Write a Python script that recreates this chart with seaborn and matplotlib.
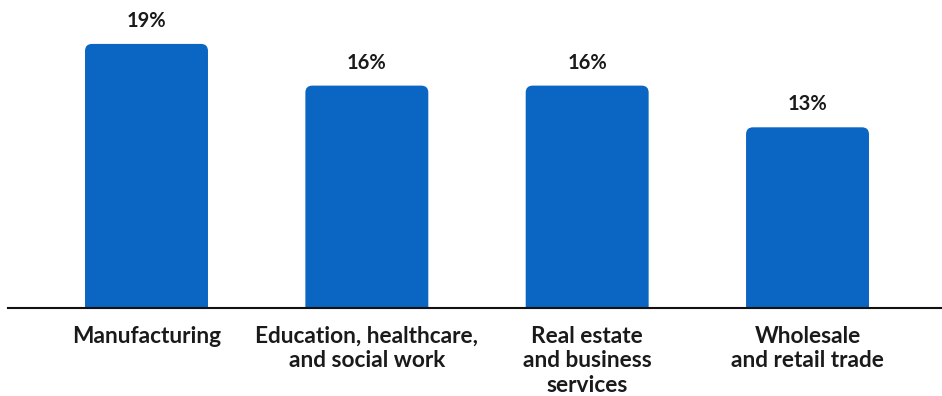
import matplotlib
matplotlib.use("Agg")
import matplotlib.pyplot as plt
import seaborn as sns
import pandas as pd
from matplotlib.patches import FancyBboxPatch

categories = ["Manufacturing", "Education, healthcare,\nand social work",
              "Real estate\nand business\nservices", "Wholesale\nand retail trade"]
values = [19, 16, 16, 13]
value_labels = ["19%", "16%", "16%", "13%"]

sns.set_theme(style="white")
plt.rcParams['font.family'] = ['Lato', 'DejaVu Sans']

W, H = 942, 396
fig = plt.figure(figsize=(W / 100, H / 100), dpi=100)
ax = fig.add_axes([8 / W, 88 / H, 1 - 8 / W, 1 - 88 / H])

df = pd.DataFrame({"cat": categories, "val": values})
sns.barplot(data=df, x="cat", y="val", color="#0A66C2", width=0.558, ax=ax,
            saturation=1, edgecolor="none", linewidth=0)

xmin, xmax = -0.6286, 3.6104
ymax = 22.16
ax.set_xlim(xmin, xmax)
ax.set_ylim(0, ymax)

# rounded top corners
xu = (xmax - xmin) / (W - 8)
yu = ymax / 308
r_px = 7
for p in list(ax.patches):
    x0, w, h = p.get_x(), p.get_width(), p.get_height()
    p.set_visible(False)
    fb = FancyBboxPatch((x0, -r_px * 2 * yu), w, h + r_px * 2 * yu,
                        boxstyle=f"round,pad=0,rounding_size={r_px * xu}",
                        mutation_aspect=yu / xu, facecolor="#0A66C2",
                        edgecolor="none", linewidth=0, clip_on=True)
    ax.add_patch(fb)
    fb.set_clip_path(ax.patch)

for i, (v, lab) in enumerate(zip(values, value_labels)):
    ax.annotate(lab, (i, v), xytext=(0, 13), textcoords="offset pixels",
                ha="center", va="bottom", fontsize=14.5, fontweight="bold",
                color="#1a1a1a")

sns.despine(ax=ax, left=True, top=True, right=True)
ax.spines["bottom"].set_linewidth(1.5)
ax.spines["bottom"].set_color("#111111")
ax.set_yticks([])
ax.set_xlabel("")
ax.set_ylabel("")
ax.tick_params(axis="x", length=0, pad=13)
for t in ax.get_xticklabels():
    t.set_fontsize(16.3)
    t.set_fontweight("bold")
    t.set_color("#1a1a1a")
    t.set_linespacing(1.2)
    t.set_va("top")

fig.savefig("out.png", dpi=100, facecolor="white")
